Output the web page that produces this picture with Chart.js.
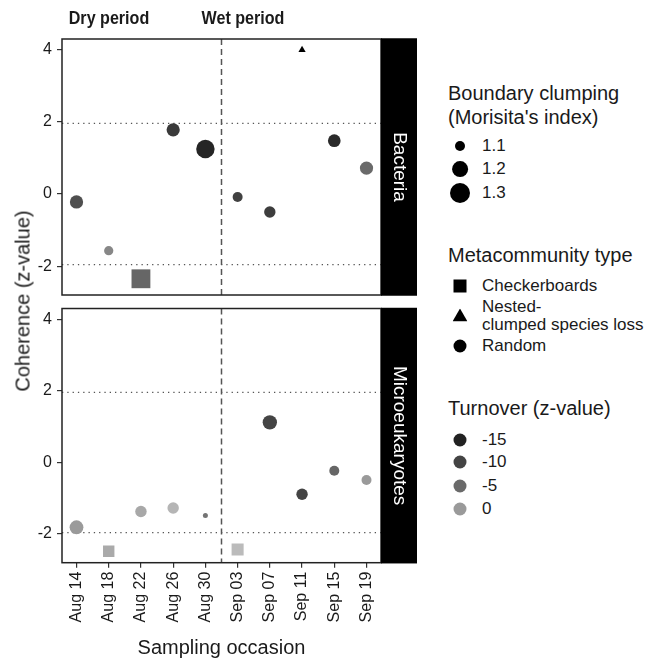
<!DOCTYPE html>
<html>
<head>
<meta charset="utf-8">
<script src="https://cdn.jsdelivr.net/npm/chart.js@4/dist/chart.umd.min.js"></script>
<style>
  body { margin: 0; background: #fff; font-family: "Liberation Sans", Arial, sans-serif; }
  #wrap { position: relative; width: 650px; height: 659px; overflow: hidden; }
  .cv { position: absolute; left: 0; }
  .txt { position: absolute; white-space: nowrap; color: #1a1a1a; line-height: 1.15; transform: translateY(-50%); }
  .sym { position: absolute; transform: translate(-50%, -50%); }
</style>
</head>
<body>
<div id="wrap">
  <div class="cv" style="top:0;width:420px;height:315px"><canvas id="topChart"></canvas></div>
  <div class="cv" style="top:300px;width:420px;height:359px"><canvas id="bottomChart"></canvas></div>
</div>
<script>
// sampling dates (days after Aug 14) and their labels
const days = [0, 4, 8, 12, 16, 20, 24, 28, 32, 36];
const tickLabels = ['Aug 14', 'Aug 18', 'Aug 22', 'Aug 26', 'Aug 30', 'Sep 03', 'Sep 07', 'Sep 11', 'Sep 15', 'Sep 19'];
const yTicks = [-2, 0, 2, 4];
const periodSplit = 18;          // Sep 01, dry / wet boundary
const sigLevel = [-1.96, 1.96];

// Bacteria
const bacCoherence = [-0.22, -1.57, -2.35, 1.78, 1.25, -0.08, -0.50, 4.00, 1.48, 0.72];
const bacClumping  = [1.15, 1.09, 1.27, 1.15, 1.26, 1.10, 1.12, 1.06, 1.14, 1.15];
const bacTurnover  = [-8.5, -2, -5.5, -11.5, -14.5, -10.5, -11, -20, -13.8, -5];
const bacType = ['Random', 'Random', 'Checkerboards', 'Random', 'Random', 'Random', 'Random',
                 'Nested-clumped species loss', 'Random', 'Random'];

// Microeukaryotes
const micCoherence = [-1.81, -2.48, -1.37, -1.27, -1.48, -2.43, 1.12, -0.89, -0.23, -0.49];
const micClumping  = [1.16, 1.12, 1.12, 1.12, 1.05, 1.13, 1.17, 1.12, 1.10, 1.10];
const micTurnover  = [0, 1.7, 1.5, 2.8, -4, 3.4, -10, -10, -5.5, 0];
const micType = ['Random', 'Checkerboards', 'Random', 'Random', 'Random', 'Checkerboards',
                 'Random', 'Random', 'Random', 'Random'];

const FONT = "'Liberation Sans', Arial, sans-serif";
const shapeStyle = { 'Random': 'circle', 'Checkerboards': 'rect', 'Nested-clumped species loss': 'triangle' };
const shapeScale = { circle: 1, rect: 1.414, triangle: 1.32 };

// size scale: area grows linearly with Morisita's index
function sizeFor(v) {
  return Math.sqrt(Math.max(25 + 375 * (v - 1.1), 2));
}

// grey scale for turnover
const greyStops = [[-15, 34], [-10, 68], [-5, 106], [0, 154]];
function greyFor(t) {
  let a = greyStops[0], b = greyStops[1];
  for (let i = 0; i < greyStops.length - 1; i++) {
    if (t >= greyStops[i][0]) { a = greyStops[i]; b = greyStops[i + 1]; }
  }
  let g = a[1] + (t - a[0]) * (b[1] - a[1]) / (b[0] - a[0]);
  g = Math.round(Math.min(Math.max(g, 0), 235));
  return 'rgb(' + g + ',' + g + ',' + g + ')';
}

const panelDecor = {
  id: 'panelDecor',
  beforeDatasetsDraw(chart) {
    const { ctx, chartArea: a, scales: { x, y } } = chart;
    ctx.save();
    ctx.strokeStyle = '#555';
    ctx.lineWidth = 1.3;
    ctx.setLineDash([1.3, 4]);
    sigLevel.forEach(v => {
      const py = y.getPixelForValue(v);
      ctx.beginPath(); ctx.moveTo(a.left, py); ctx.lineTo(a.right, py); ctx.stroke();
    });
    ctx.setLineDash([6, 4]);
    ctx.lineWidth = 1.5;
    const px = x.getPixelForValue(periodSplit);
    ctx.beginPath(); ctx.moveTo(px, a.top); ctx.lineTo(px, a.bottom); ctx.stroke();
    ctx.restore();
  },
  afterDraw(chart, args, opts) {
    const { ctx, chartArea: a } = chart;
    ctx.save();
    ctx.strokeStyle = '#222';
    ctx.lineWidth = 1.5;
    ctx.strokeRect(a.left, a.top, a.right - a.left, a.bottom - a.top);
    // facet strip
    ctx.fillStyle = '#000';
    ctx.fillRect(a.right, a.top - 0.75, 36, a.bottom - a.top + 1.5);
    ctx.translate(a.right + 18, (a.top + a.bottom) / 2);
    ctx.rotate(Math.PI / 2);
    ctx.fillStyle = '#fff';
    ctx.font = '19px ' + FONT;
    ctx.textAlign = 'center';
    ctx.textBaseline = 'middle';
    ctx.fillText(opts.label, 0, 0);
    ctx.restore();
  }
};

function zeroPad(s) {
  s.paddingTop = 0; s.paddingBottom = 0; s.paddingLeft = 0; s.paddingRight = 0;
}

function makePanel(id, coh, clump, turn, type, label, showX, pad) {
  const pts = days.map((d, i) => ({ x: d, y: coh[i] }));
  return new Chart(document.getElementById(id), {
    type: 'scatter',
    data: {
      datasets: [{
        data: pts,
        pointStyle: c => shapeStyle[type[c.dataIndex]],
        pointRadius: c => sizeFor(clump[c.dataIndex]) * shapeScale[shapeStyle[type[c.dataIndex]]],
        pointBackgroundColor: c => greyFor(turn[c.dataIndex]),
        pointBorderWidth: 0,
        pointBorderColor: 'rgba(0,0,0,0)'
      }]
    },
    options: {
      responsive: true,
      maintainAspectRatio: false,
      animation: false,
      events: [],
      layout: { padding: pad },
      plugins: { legend: { display: false }, tooltip: { enabled: false }, panelDecor: { label: label } },
      scales: {
        x: {
          type: 'linear',
          min: -1.8,
          max: 37.8,
          display: showX,
          afterBuildTicks: s => { s.ticks = days.map(v => ({ value: v })); },
          afterFit: s => { if (showX) s.height = 96.3; zeroPad(s); },
          grid: { drawOnChartArea: false, drawTicks: true, tickLength: 5, color: '#333', lineWidth: 1.2 },
          border: { display: false },
          ticks: {
            autoSkip: false,
            minRotation: 90,
            maxRotation: 90,
            padding: 4,
            color: '#1a1a1a',
            font: { family: FONT, size: 16 },
            callback: v => tickLabels[days.indexOf(v)]
          }
        },
        y: {
          min: -2.8,
          max: 4.3,
          afterBuildTicks: s => { s.ticks = yTicks.map(v => ({ value: v })); },
          afterFit: s => { s.width = 62; zeroPad(s); },
          grid: { drawOnChartArea: false, drawTicks: true, tickLength: 5, color: '#333', lineWidth: 1.2 },
          border: { display: false },
          ticks: {
            padding: 5,
            color: '#1a1a1a',
            font: { family: FONT, size: 16 }
          }
        }
      }
    },
    plugins: [panelDecor]
  });
}

makePanel('topChart', bacCoherence, bacClumping, bacTurnover, bacType, 'Bacteria', false,
  { top: 39, right: 39, bottom: 20, left: 0 });
makePanel('bottomChart', micCoherence, micClumping, micTurnover, micType, 'Microeukaryotes', true,
  { top: 6.7, right: 39, bottom: 0, left: 0 });

// titles and legend
const wrap = document.getElementById('wrap');
function addText(str, x, y, size, extra) {
  const d = document.createElement('div');
  d.className = 'txt';
  d.textContent = str;
  d.style.left = x + 'px';
  d.style.top = y + 'px';
  d.style.fontSize = size + 'px';
  if (extra) Object.assign(d.style, extra);
  wrap.appendChild(d);
  return d;
}
function addSym(shape, x, y, size, color) {
  const d = document.createElement('div');
  d.className = 'sym';
  d.style.left = x + 'px';
  d.style.top = y + 'px';
  d.style.width = size + 'px';
  d.style.height = (shape === 'triangle' ? size * 0.87 : size) + 'px';
  d.style.background = color;
  if (shape === 'circle') d.style.borderRadius = '50%';
  if (shape === 'triangle') d.style.clipPath = 'polygon(50% 0, 100% 100%, 0 100%)';
  wrap.appendChild(d);
}

const periodFont = { fontWeight: 'bold' };
addText('Dry period', 109, 18, 18.5, Object.assign({ transform: 'translate(-50%,-50%) scaleX(0.87)' }, periodFont));
addText('Wet period', 242.5, 18, 18.5, Object.assign({ transform: 'translate(-50%,-50%) scaleX(0.87)' }, periodFont));
addText('Coherence (z-value)', 23, 301, 20, { transform: 'translate(-50%,-50%) rotate(-90deg)' });
addText('Sampling occasion', 221.5, 646.7, 20, { transform: 'translate(-50%,-50%)' });

// legend: boundary clumping
const sizeBreaks = [1.1, 1.2, 1.3];
const sizeRows = [146, 169.3, 192.7];
addText('Boundary clumping', 448, 93.3, 20);
addText("(Morisita's index)", 448, 116.7, 20);
sizeBreaks.forEach((v, i) => {
  addSym('circle', 460, sizeRows[i], sizeFor(v) * 2, '#000');
  addText(v.toFixed(1), 482, sizeRows[i], 17);
});

// legend: metacommunity type
addText('Metacommunity type', 448, 255, 20);
addSym('rect', 460, 286, 13, '#000');
addText('Checkerboards', 482, 286, 17);
addSym('triangle', 460, 315, 15, '#000');
addText('Nested-', 482, 306.7, 17);
addText('clumped species loss', 482, 325, 17);
addSym('circle', 460, 346, 13, '#000');
addText('Random', 482, 346, 17);

// legend: turnover
const turnBreaks = [-15, -10, -5, 0];
const turnRows = [440, 462.3, 486, 509.3];
addText('Turnover (z-value)', 448, 408.3, 20);
turnBreaks.forEach((v, i) => {
  addSym('circle', 460, turnRows[i], 13, greyFor(v));
  addText(String(v), 482, turnRows[i], 17);
});
</script>
</body>
</html>
